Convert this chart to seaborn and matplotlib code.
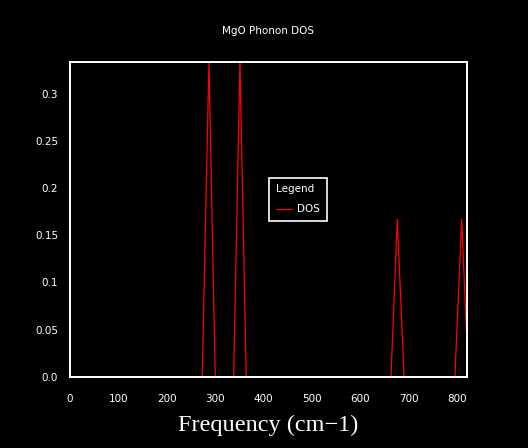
import matplotlib
matplotlib.use("Agg")
import matplotlib.pyplot as plt
import seaborn as sns
import pandas as pd

# Data
freq = [0, 273, 287, 300, 338, 351, 364, 663, 676, 690, 795, 809, 823]
dos = [0.0, 0.0, 1/3, 0.0, 0.0, 1/3, 0.0, 0.0, 1/6, 0.0, 0.0, 1/6, 0.0]
x_ticks = [0, 100, 200, 300, 400, 500, 600, 700, 800]
y_ticks = [0.0, 0.05, 0.1, 0.15, 0.2, 0.25, 0.3]
y_tick_labels = ["0.0", "0.05", "0.1", "0.15", "0.2", "0.25", "0.3"]

sns.set_style("dark")
plt.rcParams['font.family'] = ['DejaVu Sans']

df = pd.DataFrame({"Frequency": freq, "DOS": dos})

fig = plt.figure(figsize=(5.28, 4.48), dpi=100, facecolor='black')
ax = fig.add_axes([70/528, 1-377/448, (467-70)/528, (377-62)/448])
ax.set_facecolor('black')

sns.lineplot(data=df, x="Frequency", y="DOS", color='red', lw=0.9,
             estimator=None, sort=False, label='DOS', ax=ax, zorder=1)

ax.set_xlim(0, 820)
ax.set_ylim(0, 1/3)
ax.set_xticks(x_ticks)
ax.set_xticklabels([str(t) for t in x_ticks])
ax.set_yticks(y_ticks)
ax.set_yticklabels(y_tick_labels)
ax.grid(False)

for s in ax.spines.values():
    s.set_color('white')
    s.set_linewidth(1.4)
    s.set_visible(True)
    s.set_zorder(3)

ax.tick_params(axis='x', colors='white', direction='out', length=7.2, width=2,
               labelsize=7.5, pad=5)
ax.tick_params(axis='y', colors='white', direction='out', length=6.5, width=2,
               labelsize=7.5, pad=2)
ax.tick_params(top=False, right=False)

ax.set_xlabel("Frequency (cm\u22121)", color='white', fontsize=17.5,
              family=['Liberation Serif', 'DejaVu Serif'], labelpad=8)
ax.set_ylabel("")
ax.set_title("MgO Phonon DOS", color='white', fontsize=7.5, pad=20)

leg = ax.legend(title="Legend", loc='upper left', bbox_to_anchor=(0.502, 0.631),
                borderaxespad=0, frameon=True, fancybox=False, fontsize=7.5,
                title_fontsize=7.5, handlelength=1.6, handletextpad=0.5,
                borderpad=0.6, labelspacing=0.95)
leg.get_frame().set_facecolor('black')
leg.get_frame().set_edgecolor('white')
leg.get_frame().set_linewidth(1.2)
leg.get_frame().set_alpha(1)
leg._legend_box.align = "left"
leg.get_title().set_color('white')
for t in leg.get_texts():
    t.set_color('white')

fig.savefig("out.png", dpi=100, facecolor='black')
